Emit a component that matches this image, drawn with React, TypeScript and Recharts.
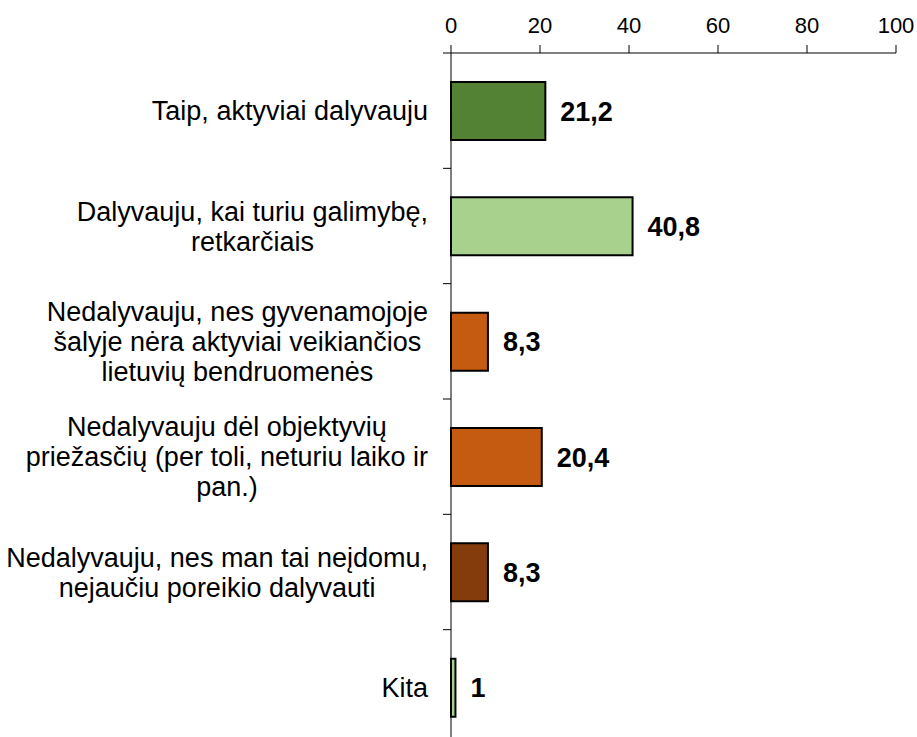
import { BarChart, Bar, XAxis, YAxis, Cell, LabelList } from "recharts";

// Survey answers — share of respondents, %
const categories = [
  "Taip, aktyviai dalyvauju",
  "Dalyvauju, kai turiu galimybę,\nretkarčiais",
  "Nedalyvauju, nes gyvenamojoje\nšalyje nėra aktyviai veikiančios\nlietuvių bendruomenės",
  "Nedalyvauju dėl objektyvių\npriežasčių (per toli, neturiu laiko ir\npan.)",
  "Nedalyvauju, nes man tai neįdomu,\nnejaučiu poreikio dalyvauti",
  "Kita",
];
const values = [21.2, 40.8, 8.3, 20.4, 8.3, 1];
const barColors = ["#548235", "#A9D18E", "#C55A11", "#C55A11", "#843C0C", "#A9D18E"];
const xTicks = [0, 20, 40, 60, 80, 100];

const FONT = "'Liberation Sans', Arial, sans-serif";
const CAT_FONT = 27;
const CHART_W = 917;
const CHART_H = 748;
const MARGIN = { top: 0, right: 21, bottom: 3, left: 0 };
const X_AXIS_H = 53;
const Y_AXIS_W = 451;
const TICK_LEN = 8;
const LABEL_GAP = 23;
const LINE_H = 30;

const data = categories.map((name, i) => ({ name, value: values[i] }));
const band = (CHART_H - MARGIN.top - MARGIN.bottom - X_AXIS_H) / categories.length;

let measureCtx: CanvasRenderingContext2D | null = null;
function textWidth(s: string): number {
  if (!measureCtx) {
    measureCtx = document.createElement("canvas").getContext("2d");
    if (measureCtx) measureCtx.font = `${CAT_FONT}px ${FONT}`;
  }
  return measureCtx ? measureCtx.measureText(s).width : s.length * 13;
}

// Label block centred on its widest line, right edge near the axis; the
// little tick marks sit on the band boundaries like in Excel.
function CategoryTick(props: any) {
  const { x, y, payload } = props;
  const lines: string[] = String(payload.value).split("\n");
  const widest = Math.max(...lines.map(textWidth));
  const axisX = x + LABEL_GAP;
  const cx = x - widest / 2;
  return (
    <g>
      <line x1={axisX - TICK_LEN} x2={axisX} y1={y - band / 2} y2={y - band / 2} stroke="#000" />
      <text x={cx} y={y} textAnchor="middle" fontFamily={FONT} fontSize={CAT_FONT} fill="#000">
        {lines.map((l, k) => (
          <tspan key={k} x={cx} y={y + (k - (lines.length - 1) / 2) * LINE_H} dy="0.36em">
            {l}
          </tspan>
        ))}
      </text>
    </g>
  );
}

export default function App() {
  return (
    <div style={{ width: CHART_W, height: CHART_H }}>
      <style>{`html,body{margin:0;overflow:hidden}`}</style>
      <BarChart
        width={CHART_W}
        height={CHART_H}
        data={data}
        layout="vertical"
        margin={MARGIN}
        style={{ fontFamily: FONT }}
      >
        <XAxis
          type="number"
          orientation="top"
          domain={[0, 100]}
          ticks={xTicks}
          interval={0}
          height={X_AXIS_H}
          tickSize={TICK_LEN}
          tickMargin={12}
          axisLine={{ stroke: "#000" }}
          tickLine={{ stroke: "#000" }}
          tick={{ fill: "#000", fontSize: 22, fontFamily: FONT }}
        />
        <YAxis
          type="category"
          dataKey="name"
          width={Y_AXIS_W}
          interval={0}
          tickSize={0}
          tickMargin={LABEL_GAP}
          tickLine={false}
          axisLine={{ stroke: "#000" }}
          tick={<CategoryTick />}
        />
        <Bar dataKey="value" barSize={58} stroke="#000" strokeWidth={2} isAnimationActive={false}>
          {data.map((d, i) => (
            <Cell key={d.name} fill={barColors[i]} />
          ))}
          <LabelList
            dataKey="value"
            position="right"
            offset={15}
            formatter={(v: any) => String(v).replace(".", ",")}
            style={{ fontFamily: FONT, fontSize: 27, fontWeight: "bold", fill: "#000" }}
          />
        </Bar>
      </BarChart>
    </div>
  );
}
